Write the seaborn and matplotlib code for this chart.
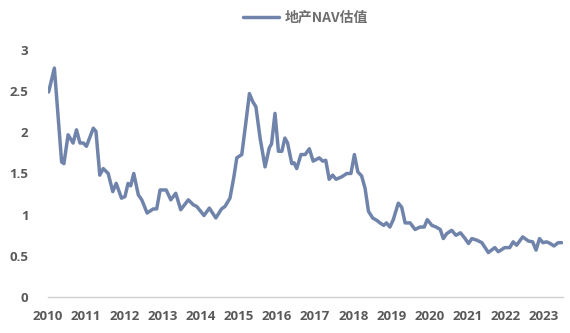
import matplotlib
matplotlib.use("Agg")
import matplotlib.pyplot as plt
import seaborn as sns
import pandas as pd

# decimal-year positions and NAV valuation values
years = [2010.02, 2010.17, 2010.36, 2010.42, 2010.53, 2010.66, 2010.75, 2010.84, 2010.93, 2011.01,
         2011.19, 2011.26, 2011.36, 2011.45, 2011.58, 2011.70, 2011.79, 2011.93, 2012.02, 2012.10,
         2012.17, 2012.25, 2012.37, 2012.46, 2012.60, 2012.76, 2012.85, 2012.94, 2013.10, 2013.22,
         2013.35, 2013.48, 2013.68, 2013.81, 2013.90, 2014.09, 2014.23, 2014.40, 2014.55, 2014.64,
         2014.77, 2014.87, 2014.95, 2015.08, 2015.19, 2015.28, 2015.37, 2015.45, 2015.56, 2015.69,
         2015.80, 2015.86, 2015.95, 2016.04, 2016.13, 2016.21, 2016.28, 2016.39, 2016.45, 2016.52,
         2016.63, 2016.74, 2016.85, 2016.95, 2017.11, 2017.20, 2017.28, 2017.37, 2017.46, 2017.55,
         2017.70, 2017.83, 2017.94, 2018.03, 2018.12, 2018.22, 2018.31, 2018.40, 2018.51, 2018.62,
         2018.70, 2018.80, 2018.87, 2018.96, 2019.05, 2019.18, 2019.27, 2019.36, 2019.49, 2019.62,
         2019.75, 2019.86, 2019.94, 2020.06, 2020.17, 2020.28, 2020.36, 2020.45, 2020.58, 2020.69,
         2020.81, 2020.93, 2021.02, 2021.11, 2021.24, 2021.37, 2021.54, 2021.71, 2021.80, 2021.97,
         2022.10, 2022.19, 2022.28, 2022.44, 2022.59, 2022.70, 2022.79, 2022.88, 2022.97, 2023.07,
         2023.16, 2023.26, 2023.37, 2023.46]
values = [2.49, 2.78, 1.64, 1.62, 1.97, 1.87, 2.03, 1.87, 1.87, 1.83,
          2.05, 2.01, 1.48, 1.56, 1.50, 1.28, 1.38, 1.20, 1.22, 1.38,
          1.35, 1.50, 1.24, 1.18, 1.02, 1.07, 1.07, 1.30, 1.30, 1.18,
          1.26, 1.06, 1.18, 1.12, 1.10, 0.99, 1.08, 0.96, 1.07, 1.10,
          1.20, 1.45, 1.69, 1.73, 2.13, 2.47, 2.37, 2.31, 1.93, 1.58,
          1.81, 1.86, 2.23, 1.77, 1.77, 1.93, 1.87, 1.62, 1.63, 1.56,
          1.73, 1.73, 1.80, 1.65, 1.69, 1.65, 1.66, 1.43, 1.48, 1.43,
          1.46, 1.50, 1.50, 1.73, 1.52, 1.47, 1.32, 1.04, 0.96, 0.93,
          0.90, 0.87, 0.90, 0.85, 0.94, 1.14, 1.09, 0.90, 0.90, 0.82,
          0.85, 0.85, 0.94, 0.87, 0.85, 0.82, 0.71, 0.77, 0.81, 0.75,
          0.78, 0.71, 0.65, 0.71, 0.69, 0.66, 0.54, 0.60, 0.55, 0.60,
          0.60, 0.67, 0.63, 0.73, 0.68, 0.67, 0.57, 0.71, 0.66, 0.67,
          0.65, 0.62, 0.66, 0.66]
series_name = "地产NAV估值"
xtick_years = list(range(2010, 2024))
yticks = [0, 0.5, 1, 1.5, 2, 2.5, 3]
ytick_labels = ["0", "0.5", "1", "1.5", "2", "2.5", "3"]

df = pd.DataFrame({"year": years, "value": values, "series": series_name})

sns.set_theme(style="white")
plt.rcParams["font.family"] = ["Open Sans", "Noto Sans CJK SC", "DejaVu Sans"]

fig = plt.figure(figsize=(5.7, 3.33), dpi=100)
ax = fig.add_axes([0.084, 0.108, 0.904, 0.742])

line_color = "#7084AB"
sns.lineplot(data=df, x="year", y="value", hue="series", palette=[line_color],
             linewidth=2.5, ax=ax, legend=True)

ax.set_xlim(2010, 2023.5)
ax.set_ylim(0, 3)
ax.set_xticks(xtick_years)
ax.set_xticklabels([str(y) for y in xtick_years], fontweight="bold")
ax.set_yticks(yticks)
ax.set_yticklabels(ytick_labels, fontweight="bold")
ax.set_xlabel("")
ax.set_ylabel("")

for s in ["top", "right", "left"]:
    ax.spines[s].set_visible(False)
ax.spines["bottom"].set_color("#D0D0D0")
ax.spines["bottom"].set_linewidth(1.0)

ax.tick_params(axis="x", direction="out", length=4, width=1, color="#D0D0D0",
               labelsize=9.5, labelcolor="#595959", pad=5)
ax.tick_params(axis="y", length=0, labelsize=9.5, labelcolor="#595959", pad=14)

leg = ax.legend(loc="upper center", bbox_to_anchor=(0.5, 1.21), frameon=False,
                handlelength=2.6, handletextpad=0.4,
                prop={"family": ["Noto Sans CJK SC", "DejaVu Sans"], "size": 10, "weight": "bold"})
for t in leg.get_texts():
    t.set_color("#6E6E6E")

fig.savefig("out.png", dpi=100)
